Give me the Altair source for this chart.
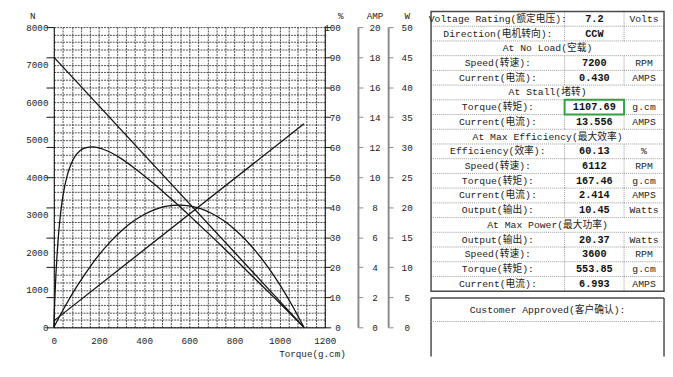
import altair as alt
import pandas as pd

# ---------------- data ----------------
speed_torque = [0, 1107.69]
speed_rpm = [7200, 0]

current_torque = [0, 1107.69]
current_amps = [0.43, 13.556]

eff_torque = [0, 3, 6, 10, 15, 20, 30, 40, 60, 80, 100, 130, 167.46, 200, 250, 300,
              350, 400, 450, 500, 553.85, 600, 650, 700, 750, 800, 850, 900, 950,
              1000, 1050, 1107.69]
eff_pct = [0, 6.6, 12.2, 18.5, 24.9, 30.1, 38.0, 43.6, 50.8, 55.0, 57.6, 59.5, 60.13,
           59.8, 58.3, 56.1, 53.4, 50.5, 47.4, 44.1, 40.5, 37.3, 33.7, 30.2, 26.6,
           22.9, 19.2, 15.5, 11.8, 8.1, 4.3, 0]

power_torque = [0, 50, 100, 167.46, 200, 250, 300, 350, 400, 450, 500, 553.85, 600,
                650, 700, 750, 800, 850, 900, 950, 1000, 1050, 1107.69]
power_watts = [0, 3.51, 6.69, 10.45, 12.06, 14.24, 16.09, 17.61, 18.80, 19.65, 20.18,
               20.37, 20.23, 19.76, 18.95, 17.82, 16.35, 14.55, 12.41, 9.95, 7.15,
               4.02, 0]

x_grid_values = list(range(0, 1201, 40))
n_label_values = list(range(0, 8001, 1000))
n_tick_values = list(range(0, 8001, 800))
pct_values = [i * 2.5 for i in range(41)]
amp_values = list(range(0, 21, 2))
watt_values = list(range(0, 51, 5))

table_labels = ["Voltage Rating(额定电压):", "Direction(电机转向):", "At No Load(空载)",
                "Speed(转速):", "Current(电流):", "At Stall(堵转)", "Torque(转矩):",
                "Current(电流):", "At Max Efficiency(最大效率)", "Efficiency(效率):",
                "Speed(转速):", "Torque(转矩):", "Current(电流):", "Output(输出):",
                "At Max Power(最大功率)", "Output(输出):", "Speed(转速):",
                "Torque(转矩):", "Current(电流):"]
table_values = ["7.2", "CCW", "", "7200", "0.430", "", "1107.69", "13.556", "",
                "60.13", "6112", "167.46", "2.414", "10.45", "", "20.37", "3600",
                "553.85", "6.993"]
table_units = ["Volts", "", "", "RPM", "AMPS", "", "g.cm", "AMPS", "", "%", "RPM",
               "g.cm", "AMPS", "Watts", "", "Watts", "RPM", "g.cm", "AMPS"]
header_rows = [2, 5, 8, 14]
highlight_row = 6
customer_text = "Customer Approved(客户确认):"

# ---------------- styling / layout ----------------
FONT = "Liberation Mono, Noto Sans CJK SC, monospace"
FS = 9.5
TFS = 10
GRID = "#333333"
INK = "#111111"
AXIS_GRAY = "#8a8a8a"


def only_every(step):
    return {"condition": {"test": f"datum.value % {step} == 0", "value": 1}, "value": 0}


x_enc = alt.X(
    "torque:Q",
    scale=alt.Scale(domain=[0, 1200], nice=False, zero=False),
    axis=alt.Axis(values=x_grid_values,
                  labelExpr="datum.value % 200 == 0 ? datum.label : ''",
                  format="d", grid=True, gridColor=GRID, gridDash=[2, 1], gridWidth=0.9,
                  tickSize=0, labelPadding=9, labelOverlap=False, labelFlush=False,
                  domainColor=INK, title="Torque(g.cm)", titleX=299, titleY=27,
                  titleAlign="right", titleBaseline="middle"),
)

n_axis_values = sorted(set(n_label_values + n_tick_values))

speed = alt.Chart(pd.DataFrame({"torque": speed_torque, "v": speed_rpm})).mark_line(
    color=INK, strokeWidth=1.3
).encode(
    x=x_enc,
    y=alt.Y("v:Q", scale=alt.Scale(domain=[0, 8000], nice=False),
            axis=alt.Axis(orient="left", values=n_axis_values,
                          labelExpr="datum.value % 1000 == 0 ? datum.label : ''",
                          tickOpacity=only_every(800), tickSize=8, tickColor=INK,
                          labelPadding=-2, labelOverlap=False, labelFlush=False,
                          format="d", grid=False, domainColor=INK,
                          title="N", titleAngle=0, titleX=-22, titleY=-12,
                          titleAlign="center", titleBaseline="middle")),
)

eff = alt.Chart(pd.DataFrame({"torque": eff_torque, "v": eff_pct})).mark_line(
    color=INK, strokeWidth=1.3, interpolate="monotone"
).encode(
    x=x_enc,
    y=alt.Y("v:Q", scale=alt.Scale(domain=[0, 100], nice=False),
            axis=alt.Axis(orient="right", values=pct_values,
                          labelExpr="datum.value % 10 == 0 ? datum.label : ''",
                          tickOpacity=only_every(10), tickSize=6, tickColor=INK,
                          labelPadding=10, labelAlign="right", labelOverlap=False,
                          labelFlush=False, format="d",
                          grid=True, gridColor=GRID, gridDash=[2, 1], gridWidth=0.9,
                          domainColor=INK,
                          title="%", titleAngle=0, titleX=16, titleY=-12,
                          titleAlign="center", titleBaseline="middle")),
)

cur = alt.Chart(pd.DataFrame({"torque": current_torque, "v": current_amps})).mark_line(
    color=INK, strokeWidth=1.3
).encode(
    x=x_enc,
    y=alt.Y("v:Q", scale=alt.Scale(domain=[0, 20], nice=False),
            axis=alt.Axis(orient="right", offset=34, values=amp_values,
                          tickSize=5, tickColor=AXIS_GRAY, labelPadding=12,
                          labelAlign="center", labelOverlap=False, labelFlush=False,
                          format="d", grid=False, domainColor=AXIS_GRAY, domainWidth=2,
                          title="AMP", titleAngle=0, titleX=17, titleY=-12,
                          titleAlign="center", titleBaseline="middle")),
)

power = alt.Chart(pd.DataFrame({"torque": power_torque, "v": power_watts})).mark_line(
    color=INK, strokeWidth=1.3, interpolate="monotone"
).encode(
    x=x_enc,
    y=alt.Y("v:Q", scale=alt.Scale(domain=[0, 50], nice=False),
            axis=alt.Axis(orient="right", offset=65, values=watt_values,
                          tickSize=5, tickColor=AXIS_GRAY, labelPadding=14,
                          labelAlign="center", labelOverlap=False, labelFlush=False,
                          format="d", grid=False, domainColor=AXIS_GRAY, domainWidth=2,
                          title="W", titleAngle=0, titleX=19, titleY=-12,
                          titleAlign="center", titleBaseline="middle")),
)

plot = alt.layer(speed, eff, cur, power).resolve_scale(y="independent").properties(
    width=278, height=308
)

# ---------------- table ----------------
TBL_W = 239
TBL_H = 338          # view height (aligned with the plot's top)
ROW_H = 15.1
TOP_OFF = 16.0 / ROW_H   # table starts above the view top, level with the axis titles
C1, C2 = 137, 198
n_rows = len(table_labels)
y_dom = [TOP_OFF, TBL_H / ROW_H + TOP_OFF]
box2_top = 19.47
box2_line = 21.06

xs = alt.Scale(domain=[0, TBL_W], nice=False, zero=False)
ys = alt.Scale(domain=y_dom, nice=False, zero=False, reverse=True)

cells = []
for r in range(n_rows):
    if r in header_rows:
        cells.append({"x": TBL_W / 2, "y": r + 0.5, "text": table_labels[r], "kind": "h"})
    else:
        cells.append({"x": C1 / 2, "y": r + 0.5, "text": table_labels[r], "kind": "l"})
        cells.append({"x": (C1 + C2) / 2, "y": r + 0.5, "text": table_values[r], "kind": "v"})
        cells.append({"x": (C2 + TBL_W) / 2, "y": r + 0.5, "text": table_units[r], "kind": "u"})
cells.append({"x": TBL_W / 2, "y": (box2_top + box2_line) / 2, "text": customer_text, "kind": "h"})
cells_df = pd.DataFrame(cells)

hlines = pd.DataFrame({"y": list(range(1, n_rows)), "x": 0, "x2": TBL_W})
vl = []
for r in range(n_rows):
    if r not in header_rows:
        vl.append({"x": C1, "y": r, "y2": r + 1})
        vl.append({"x": C2, "y": r, "y2": r + 1})
vlines = pd.DataFrame(vl)

X = lambda f: alt.X(f"{f}:Q", scale=xs, axis=None)
Y = lambda f: alt.Y(f"{f}:Q", scale=ys, axis=None)

inner_h = alt.Chart(hlines).mark_rule(color="#9a9a9a", strokeDash=[1, 1], strokeWidth=1).encode(
    x=X("x"), x2="x2", y=Y("y"))
inner_v = alt.Chart(vlines).mark_rule(color="#9a9a9a", strokeDash=[1, 1], strokeWidth=1).encode(
    x=X("x"), y=Y("y"), y2="y2")
border = alt.Chart(pd.DataFrame({"x": [0], "x2": [TBL_W], "y": [0], "y2": [n_rows]})).mark_rect(
    fillOpacity=0, stroke="#4a4a4a", strokeWidth=1.5).encode(
    x=X("x"), x2="x2", y=Y("y"), y2="y2")
green = alt.Chart(pd.DataFrame({"x": [C1], "x2": [C2], "y": [highlight_row],
                                "y2": [highlight_row + 1]})).mark_rect(
    fillOpacity=0, stroke="#33a044", strokeWidth=2).encode(
    x=X("x"), x2="x2", y=Y("y"), y2="y2")

box2_top_rule = alt.Chart(pd.DataFrame({"x": [0], "x2": [TBL_W], "y": [box2_top]})).mark_rule(
    color="#4a4a4a", strokeWidth=1.5).encode(x=X("x"), x2="x2", y=Y("y"))
box2_sides = alt.Chart(pd.DataFrame({"x": [0, TBL_W], "y": [box2_top, box2_top],
                                     "y2": [y_dom[1], y_dom[1]]})).mark_rule(
    color="#4a4a4a", strokeWidth=1.5).encode(x=X("x"), y=Y("y"), y2="y2")
box2_line_rule = alt.Chart(pd.DataFrame({"x": [0], "x2": [TBL_W], "y": [box2_line]})).mark_rule(
    color="#9a9a9a", strokeDash=[1, 1]).encode(x=X("x"), x2="x2", y=Y("y"))

txt_norm = alt.Chart(cells_df).transform_filter("datum.kind != 'v'").mark_text(
    fontSize=TFS, color="#222", align="center", baseline="middle").encode(
    x=X("x"), y=Y("y"), text="text:N")
txt_bold = alt.Chart(cells_df).transform_filter("datum.kind == 'v'").mark_text(
    fontSize=TFS + 0.5, fontWeight="bold", color="#111", align="center",
    baseline="middle").encode(x=X("x"), y=Y("y"), text="text:N")

table = alt.layer(inner_h, inner_v, border, green, box2_top_rule, box2_sides,
                  box2_line_rule, txt_norm, txt_bold).properties(width=TBL_W, height=TBL_H)

chart = alt.hconcat(plot, table, spacing=16).properties(
    padding={"left": 18, "top": -2, "right": 0, "bottom": 0}
).configure(font=FONT).configure_view(stroke=None).configure_axis(
    labelFontSize=FS, titleFontSize=FS, titleFontWeight="normal",
    labelColor="#222", titleColor="#222"
)

chart.save("out.html", embed_options={"renderer": "svg", "actions": False})
